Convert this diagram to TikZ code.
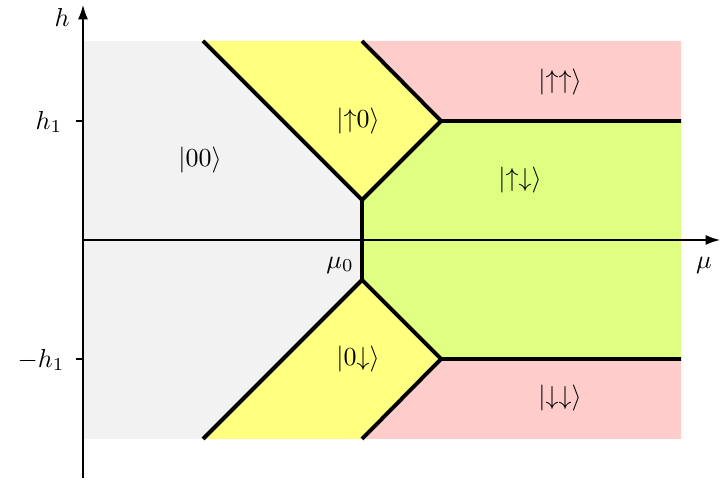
\documentclass[tikz,border=0pt]{standalone}
\usetikzlibrary{arrows.meta}
\definecolor{phgray}{HTML}{F2F2F2}
\definecolor{phyellow}{HTML}{FFFF80}
\definecolor{phred}{HTML}{FFCCCC}
\definecolor{phgreen}{HTML}{DFFF80}
\begin{document}
\begin{tikzpicture}[x=0.385pt,y=-0.385pt,
  boundary/.style={line width=1.5pt,line join=miter},
  axis/.style={line width=0.5pt,-{Latex[length=5.5pt,width=3.8pt]}},
  lbl/.style={inner sep=1pt}]
\useasboundingbox (0,0) rectangle (723,485);
% corner coordinates
\coordinate (O) at (83,240);
\coordinate (TL) at (203,41);
\coordinate (TM) at (362,41);
\coordinate (TR) at (681,41);
\coordinate (P1) at (441,121);
\coordinate (Q1) at (681,121);
\coordinate (C1) at (362,200);
\coordinate (C2) at (362,280);
\coordinate (P2) at (441,359);
\coordinate (Q2) at (681,359);
\coordinate (BL) at (203,439);
\coordinate (BM) at (362,439);
\coordinate (BR) at (681,439);
% fills
\fill[phgray] (83,41) rectangle (362,439);
\fill[phyellow] (TL) -- (TM) -- (P1) -- (C1) -- cycle;
\fill[phyellow] (BL) -- (BM) -- (P2) -- (C2) -- cycle;
\fill[phred] (TM) -- (TR) -- (Q1) -- (P1) -- cycle;
\fill[phred] (BM) -- (BR) -- (Q2) -- (P2) -- cycle;
\fill[phgreen] (C1) -- (P1) -- (Q1) -- (Q2) -- (P2) -- (C2) -- cycle;
% axes
\coordinate (xs) at (83,240);
\coordinate (xe) at (720,240);
\coordinate (ys) at (83,478);
\coordinate (ye) at (83,5);
\draw[axis] (xs) -- (xe);
\draw[axis] (ys) -- (ye);
\coordinate (t1a) at (76,121);
\coordinate (t1b) at (83,121);
\coordinate (t2a) at (76,359);
\coordinate (t2b) at (83,359);
\draw[line width=0.5pt] (t1a) -- (t1b);
\draw[line width=0.5pt] (t2a) -- (t2b);
% boundaries
\draw[boundary] (TL) -- (C1);
\draw[boundary] (TM) -- (P1) -- (Q1);
\draw[boundary] (C1) -- (P1);
\draw[boundary] (C1) -- (C2);
\draw[boundary] (BL) -- (C2);
\draw[boundary] (BM) -- (P2) -- (Q2);
\draw[boundary] (C2) -- (P2);
% labels
\node[lbl] (lh) at (62,17) {$h$};
\node[lbl] (lh1) at (49,122) {$h_1$};
\node[lbl] (lmh1) at (41,360) {$-h_1$};
\node[lbl] (lmu) at (704,265) {$\mu$};
\node[lbl] (lmu0) at (340,265) {$\mu_0$};
\node[lbl] (s00) at (200,160) {$|00\rangle$};
\node[lbl] (su0) at (358,121) {$|{\uparrow}0\rangle$};
\node[lbl] (suu) at (560,82) {$|{\uparrow\uparrow}\rangle$};
\node[lbl] (sud) at (520,180) {$|{\uparrow\downarrow}\rangle$};
\node[lbl] (s0d) at (358,359) {$|0{\downarrow}\rangle$};
\node[lbl] (sdd) at (560,398) {$|{\downarrow\downarrow}\rangle$};
\end{tikzpicture}
\end{document}
